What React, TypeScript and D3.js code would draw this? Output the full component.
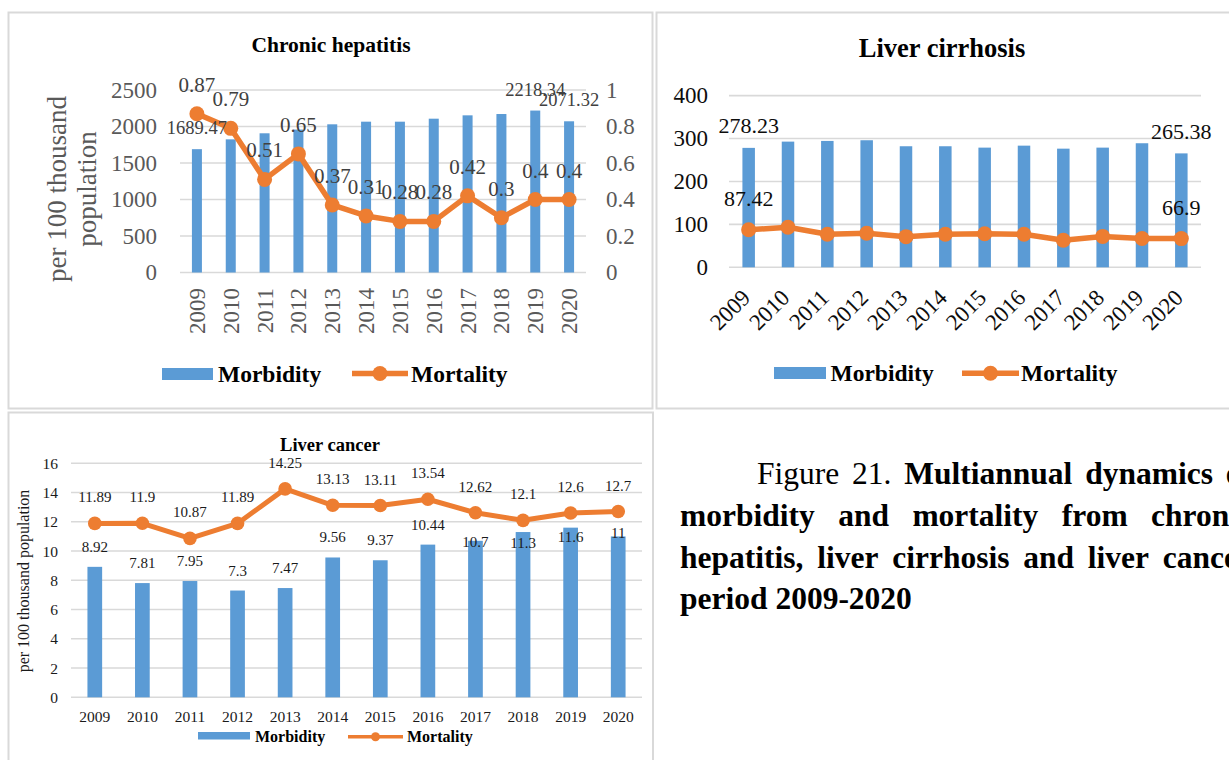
import React from 'react';
import * as d3 from 'd3';

// ---- data -------------------------------------------------------------
const years = ['2009', '2010', '2011', '2012', '2013', '2014', '2015', '2016', '2017', '2018', '2019', '2020'];

// Chronic hepatitis, per 100 thousand population
const hepatitisMorbidity = [1689.47, 1824, 1907, 1958, 2030, 2066, 2066, 2107, 2153, 2171, 2218.34, 2071.32];
const hepatitisMortality = [0.87, 0.79, 0.51, 0.65, 0.37, 0.31, 0.28, 0.28, 0.42, 0.3, 0.4, 0.4];
const hepatitisLeftTicks = [0, 500, 1000, 1500, 2000, 2500];
const hepatitisRightTicks = [0, 0.2, 0.4, 0.6, 0.8, 1];
const hepatitisLabelledBars = ['2009', '2019', '2020'];

// Liver cirrhosis
const cirrhosisMorbidity = [278.23, 292.8, 294.4, 296, 282, 282, 278.8, 283.4, 276.4, 278.8, 289, 265.38];
const cirrhosisMortality = [87.42, 93.2, 76.9, 79.2, 71.4, 76.9, 78, 77, 63, 72, 67, 66.9];
const cirrhosisTicks = [0, 100, 200, 300, 400];
const cirrhosisLabelledYears = ['2009', '2020'];

// Liver cancer
const cancerMorbidity = [8.92, 7.81, 7.95, 7.3, 7.47, 9.56, 9.37, 10.44, 10.7, 11.3, 11.6, 11];
const cancerMortality = [11.89, 11.9, 10.87, 11.89, 14.25, 13.13, 13.11, 13.54, 12.62, 12.1, 12.6, 12.7];
const cancerTicks = [0, 2, 4, 6, 8, 10, 12, 14, 16];

const seriesNames = ['Morbidity', 'Mortality'];

const captionLines = [
  ['Figure', '21.', 'Multiannual', 'dynamics', 'of'],
  ['morbidity', 'and', 'mortality', 'from', 'chronic'],
  ['hepatitis,', 'liver', 'cirrhosis', 'and', 'liver', 'cancer'],
  ['period', '2009-2020'],
];
const captionRegularWords = 2; // "Figure 21." is set in regular weight

// ---- styling ----------------------------------------------------------
const FONT = "'Liberation Serif', 'Times New Roman', Times, serif";
const BLUE = '#5B9BD5';
const ORANGE = '#ED7D31';
const GRID = '#D9D9D9';
const BORDER = '#D9D9D9';

const fmt = (v: number) => String(v);

let measureCtx: CanvasRenderingContext2D | null = null;
function textWidth(s: string, bold: boolean, size: number) {
  if (!measureCtx) measureCtx = document.createElement('canvas').getContext('2d');
  if (!measureCtx) return s.length * size * 0.5;
  measureCtx.font = `${bold ? 'bold ' : ''}${size}px ${FONT}`;
  return measureCtx.measureText(s).width;
}

function Legend({ rectX, rectY, rectW, rectH, textX1, lineX1, lineX2, textX2, cy, size, lineW, r }: any) {
  return (
    <g>
      <rect x={rectX} y={rectY} width={rectW} height={rectH} fill={BLUE} />
      <text x={textX1} y={cy} dominantBaseline="central" fontWeight="bold" fontSize={size} fill="#000">{seriesNames[0]}</text>
      <line x1={lineX1} x2={lineX2} y1={cy} y2={cy} stroke={ORANGE} strokeWidth={lineW} />
      <circle cx={(lineX1 + lineX2) / 2} cy={cy} r={r} fill={ORANGE} />
      <text x={textX2} y={cy} dominantBaseline="central" fontWeight="bold" fontSize={size} fill="#000">{seriesNames[1]}</text>
    </g>
  );
}

function ChronicHepatitis() {
  const x = d3.scaleBand<string>().domain(years).range([180, 586]);
  const y = d3.scaleLinear().domain([0, 2500]).range([272.5, 90]);
  const y2 = d3.scaleLinear().domain([0, 1]).range([272.5, 90]);
  const cx = (yr: string) => (x(yr) as number) + x.bandwidth() / 2;
  const barW = 10;
  const path = d3.line<number>().x((_, i) => cx(years[i])).y((d) => y2(d))(hepatitisMortality) || '';
  const axisColor = '#595959';
  return (
    <g>
      <text x={331} y={52} textAnchor="middle" fontWeight="bold" fontSize={21.5} fill="#000">Chronic hepatitis</text>
      {hepatitisLeftTicks.map((t) => (
        <line key={'g' + t} x1={180} x2={586} y1={y(t)} y2={y(t)} stroke={GRID} strokeWidth={1.6} />
      ))}
      {hepatitisLeftTicks.map((t) => (
        <text key={'l' + t} x={157} y={y(t)} textAnchor="end" dominantBaseline="central" fontSize={23} fill={axisColor}>{t}</text>
      ))}
      {hepatitisRightTicks.map((t) => (
        <text key={'r' + t} x={606} y={y2(t)} textAnchor="start" dominantBaseline="central" fontSize={23} fill={axisColor}>{fmt(t)}</text>
      ))}
      <g transform="translate(0,189) rotate(-90)" fill={axisColor} fontSize={27}>
        <text x={0} y={66} textAnchor="middle">per 100 thousand</text>
        <text x={0} y={96} textAnchor="middle">population</text>
      </g>
      {years.map((yr, i) => (
        <rect key={'b' + yr} x={cx(yr) - barW / 2} y={y(hepatitisMorbidity[i])} width={barW} height={y(0) - y(hepatitisMorbidity[i])} fill={BLUE} />
      ))}
      <path d={path} fill="none" stroke={ORANGE} strokeWidth={5.5} strokeLinejoin="round" />
      {years.map((yr, i) => (
        <circle key={'m' + yr} cx={cx(yr)} cy={y2(hepatitisMortality[i])} r={7.5} fill={ORANGE} />
      ))}
      {years.map((yr, i) =>
        hepatitisLabelledBars.includes(yr) ? (
          <text key={'bl' + yr} x={cx(yr)} y={y(hepatitisMorbidity[i]) - 21} textAnchor="middle" dominantBaseline="central" fontSize={18.5} fill="#404040">
            {fmt(hepatitisMorbidity[i])}
          </text>
        ) : null
      )}
      {years.map((yr, i) => (
        <text key={'ml' + yr} x={cx(yr)} y={y2(hepatitisMortality[i]) - 29} textAnchor="middle" dominantBaseline="central" fontSize={21} fill="#404040">
          {fmt(hepatitisMortality[i])}
        </text>
      ))}
      {years.map((yr) => (
        <text key={'x' + yr} transform={`translate(${cx(yr) + 8},288) rotate(-90)`} textAnchor="end" fontSize={23} fill={axisColor}>{yr}</text>
      ))}
      <Legend rectX={162} rectY={368} rectW={51} rectH={12} textX1={218} lineX1={352} lineX2={408} textX2={411} cy={373.5} size={23.5} lineW={5.5} r={7.5} />
    </g>
  );
}

function LiverCirrhosis() {
  const x = d3.scaleBand<string>().domain(years).range([729, 1201]);
  const y = d3.scaleLinear().domain([0, 400]).range([267.3, 95.6]);
  const cx = (yr: string) => (x(yr) as number) + x.bandwidth() / 2;
  const barW = 12.5;
  const path = d3.line<number>().x((_, i) => cx(years[i])).y((d) => y(d))(cirrhosisMortality) || '';
  const txt = '#0d0d0d';
  return (
    <g>
      <text x={942} y={57} textAnchor="middle" fontWeight="bold" fontSize={26.5} fill="#000">Liver cirrhosis</text>
      {cirrhosisTicks.map((t) => (
        <line key={'g' + t} x1={729} x2={1201} y1={y(t)} y2={y(t)} stroke={GRID} strokeWidth={1.6} />
      ))}
      {cirrhosisTicks.map((t) => (
        <text key={'l' + t} x={708} y={y(t)} textAnchor="end" dominantBaseline="central" fontSize={23} fill={txt}>{t}</text>
      ))}
      {years.map((yr, i) => (
        <rect key={'b' + yr} x={cx(yr) - barW / 2} y={y(cirrhosisMorbidity[i])} width={barW} height={y(0) - y(cirrhosisMorbidity[i])} fill={BLUE} />
      ))}
      <path d={path} fill="none" stroke={ORANGE} strokeWidth={5.5} strokeLinejoin="round" />
      {years.map((yr, i) => (
        <circle key={'m' + yr} cx={cx(yr)} cy={y(cirrhosisMortality[i])} r={7.5} fill={ORANGE} />
      ))}
      {years.map((yr, i) =>
        cirrhosisLabelledYears.includes(yr) ? (
          <g key={'lab' + yr}>
            <text x={cx(yr)} y={y(cirrhosisMorbidity[i]) - 22} textAnchor="middle" dominantBaseline="central" fontSize={22} fill={txt}>
              {fmt(cirrhosisMorbidity[i])}
            </text>
            <text x={cx(yr)} y={y(cirrhosisMortality[i]) - 31} textAnchor="middle" dominantBaseline="central" fontSize={22} fill={txt}>
              {fmt(cirrhosisMortality[i])}
            </text>
          </g>
        ) : null
      )}
      {years.map((yr) => (
        <text key={'x' + yr} transform={`translate(${cx(yr) + 3},299) rotate(-45)`} textAnchor="end" fontSize={23} fill={txt}>{yr}</text>
      ))}
      <Legend rectX={774} rectY={367} rectW={52} rectH={12} textX1={830.5} lineX1={962} lineX2={1019} textX2={1021} cy={373.3} size={23.5} lineW={5.5} r={7.5} />
    </g>
  );
}

// label offsets (px) for morbidity bars in the liver-cancer chart: most sit above the bar,
// the last few are pulled down to stay clear of the mortality labels
const cancerBarLabelShift = [-20, -20, -20, -20, -20, -20, -20, -20, 1, 11, 9, -3];

function LiverCancer() {
  const x = d3.scaleBand<string>().domain(years).range([71, 642]);
  const y = d3.scaleLinear().domain([0, 16]).range([697.3, 463.3]);
  const cx = (yr: string) => (x(yr) as number) + x.bandwidth() / 2;
  const barW = 14.7;
  const path = d3.line<number>().x((_, i) => cx(years[i])).y((d) => y(d))(cancerMortality) || '';
  const txt = '#1a1a1a';
  return (
    <g>
      <text x={330} y={451} textAnchor="middle" fontWeight="bold" fontSize={18.5} fill="#000">Liver cancer</text>
      {cancerTicks.map((t) => (
        <line key={'g' + t} x1={71} x2={642} y1={y(t)} y2={y(t)} stroke={GRID} strokeWidth={1.5} />
      ))}
      {cancerTicks.map((t) => (
        <text key={'l' + t} x={58} y={y(t)} textAnchor="end" dominantBaseline="central" fontSize={15.5} fill={txt}>{t}</text>
      ))}
      <text transform="translate(29,581) rotate(-90)" textAnchor="middle" fontSize={16} fill={txt}>per 100 thousand population</text>
      {years.map((yr, i) => (
        <rect key={'b' + yr} x={cx(yr) - barW / 2} y={y(cancerMorbidity[i])} width={barW} height={y(0) - y(cancerMorbidity[i])} fill={BLUE} />
      ))}
      <path d={path} fill="none" stroke={ORANGE} strokeWidth={5} strokeLinejoin="round" />
      {years.map((yr, i) => (
        <circle key={'m' + yr} cx={cx(yr)} cy={y(cancerMortality[i])} r={6.8} fill={ORANGE} />
      ))}
      {years.map((yr, i) => (
        <text key={'bl' + yr} x={cx(yr)} y={y(cancerMorbidity[i]) + cancerBarLabelShift[i]} textAnchor="middle" dominantBaseline="central" fontSize={15} fill={txt}>
          {fmt(cancerMorbidity[i])}
        </text>
      ))}
      {years.map((yr, i) => (
        <text key={'ml' + yr} x={cx(yr)} y={y(cancerMortality[i]) - 26} textAnchor="middle" dominantBaseline="central" fontSize={15} fill={txt}>
          {fmt(cancerMortality[i])}
        </text>
      ))}
      {years.map((yr) => (
        <text key={'x' + yr} x={cx(yr)} y={722} textAnchor="middle" fontSize={15.5} fill={txt}>{yr}</text>
      ))}
      <Legend rectX={198} rectY={732} rectW={52} rectH={7.5} textX1={255} lineX1={348} lineX2={403} textX2={407} cy={736.7} size={16} lineW={3.5} r={4.5} />
    </g>
  );
}

function Caption() {
  const size = 31.5;
  const right = 1252;
  const starts = [757, 680, 680, 680];
  const baselines = [484, 526, 568, 609];
  let wordIndex = 0;
  const out: any[] = [];
  captionLines.forEach((words, li) => {
    const bolds = words.map(() => {
      const b = wordIndex >= captionRegularWords;
      wordIndex++;
      return b;
    });
    const widths = words.map((w, i) => textWidth(w, bolds[i], size));
    const total = widths.reduce((a, b) => a + b, 0);
    const last = li === captionLines.length - 1;
    const gap = last ? size * 0.25 : (right - starts[li] - total) / (words.length - 1);
    let xPos = starts[li];
    words.forEach((w, i) => {
      out.push(
        <text key={`c${li}-${i}`} x={xPos} y={baselines[li]} fontSize={size} fontWeight={bolds[i] ? 'bold' : 'normal'} fill="#000">{w}</text>
      );
      xPos += widths[i] + gap;
    });
  });
  return <g>{out}</g>;
}

export default function App() {
  return (
    <div style={{ position: 'absolute', left: 0, top: 0, width: 1229, height: 760, overflow: 'hidden', background: '#fff' }}>
      <svg width={1229} height={760} style={{ display: 'block', fontFamily: FONT }}>
        <rect x={0} y={0} width={1229} height={760} fill="#fff" />
        {/* table cell borders */}
        <rect x={8.5} y={12.5} width={644} height={396} fill="none" stroke={BORDER} strokeWidth={2} />
        <rect x={656.5} y={12.5} width={600} height={396} fill="none" stroke={BORDER} strokeWidth={2} />
        <rect x={8.5} y={412.5} width={644.5} height={400} fill="none" stroke={BORDER} strokeWidth={2} />
        <ChronicHepatitis />
        <LiverCirrhosis />
        <LiverCancer />
        <Caption />
      </svg>
    </div>
  );
}
